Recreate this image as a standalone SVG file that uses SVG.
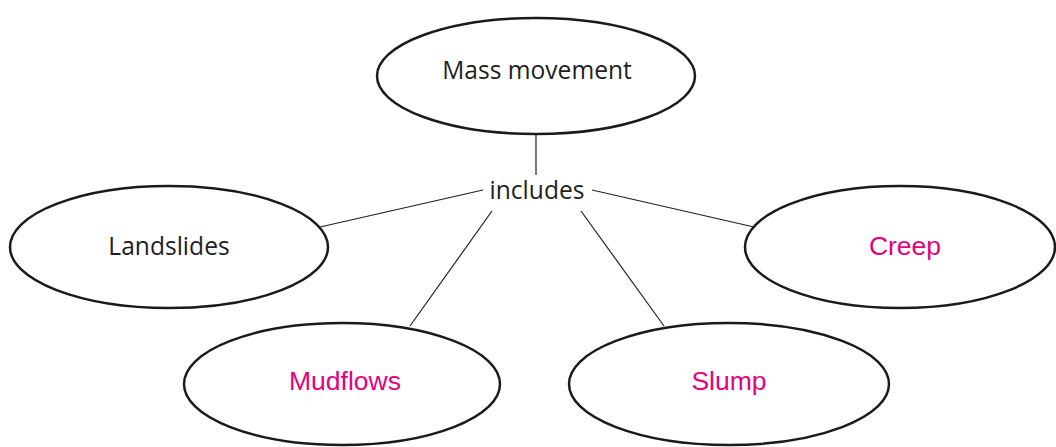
<svg xmlns="http://www.w3.org/2000/svg" width="1056" height="447" viewBox="0 0 1056 447">
  <style>
    .node ellipse { fill: #ffffff; stroke: #1a1a1a; stroke-width: 2.5; }
    .dark { font-family: "Open Sans", "DejaVu Sans", sans-serif; font-size: 24.6px; fill: #231f20; text-anchor: middle; }
    .pink { font-family: "Liberation Sans", Arial, sans-serif; font-size: 26.5px; fill: #e6007e; text-anchor: middle; }
    .links line { stroke: #231f20; stroke-width: 1.2; }
  </style>
  <rect width="1056" height="447" fill="#ffffff"/>

  <!-- connectors -->
  <g id="connectors" class="links">
    <line x1="536" y1="135" x2="536" y2="175"/>
    <line x1="483" y1="190" x2="320" y2="227"/>
    <line x1="592" y1="190" x2="754" y2="227"/>
    <line x1="492" y1="211" x2="410" y2="326"/>
    <line x1="581" y1="211" x2="664" y2="326"/>
  </g>

  <!-- linking phrase -->
  <g id="includes">
    <text class="dark" x="537" y="199">includes</text>
  </g>

  <g id="mass-movement" class="node">
    <ellipse cx="536" cy="76" rx="159" ry="58"/>
    <text class="dark" x="537" y="79">Mass movement</text>
  </g>

  <g id="landslides" class="node">
    <ellipse cx="169" cy="247" rx="159" ry="61"/>
    <text class="dark" x="169" y="255">Landslides</text>
  </g>

  <g id="creep" class="node">
    <ellipse cx="900" cy="247" rx="155" ry="61"/>
    <text class="pink" x="905" y="255">Creep</text>
  </g>

  <g id="mudflows" class="node">
    <ellipse cx="342" cy="384" rx="158" ry="61"/>
    <text class="pink" x="345" y="390">Mudflows</text>
  </g>

  <g id="slump" class="node">
    <ellipse cx="729" cy="384" rx="160" ry="61"/>
    <text class="pink" x="729" y="390">Slump</text>
  </g>
</svg>
